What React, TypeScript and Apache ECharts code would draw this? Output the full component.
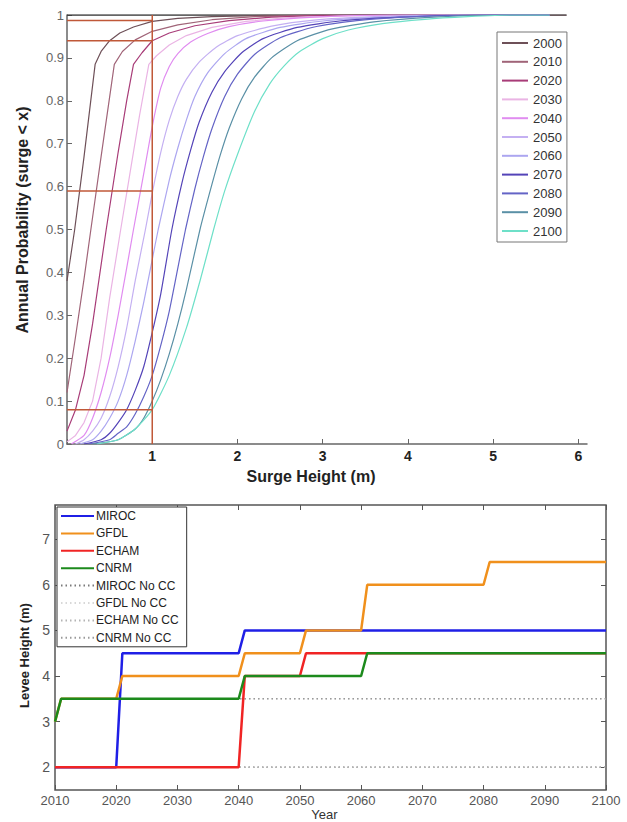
import React, { useEffect, useRef } from "react";
import * as echarts from "echarts";

// ---------- Top chart: annual probability curves ----------
const YEARS = ["2000", "2010", "2020", "2030", "2040", "2050", "2060", "2070", "2080", "2090", "2100"];

const CDF_2000 = [[0, 0.38], [0.09, 0.5], [0.2, 0.67], [0.33, 0.885], [0.4, 0.915], [0.5, 0.94], [0.62, 0.958], [0.78, 0.972], [1.0, 0.985], [1.3, 0.992], [1.7, 0.996], [2.3, 0.999], [3, 1], [5.86, 1]];
const CDF_2010 = [[0, 0.12], [0.1, 0.25], [0.2, 0.385], [0.28, 0.5], [0.4, 0.67], [0.555, 0.885], [0.65, 0.915], [0.8, 0.942], [1.0, 0.962], [1.3, 0.977], [1.7, 0.989], [2.2, 0.996], [2.8, 0.999], [3.4, 1], [5.66, 1]];
const CDF_2020 = [[0, 0.03], [0.1, 0.08], [0.2, 0.16], [0.3, 0.28], [0.46, 0.5], [0.6, 0.68], [0.7, 0.8], [0.78, 0.885], [0.88, 0.912], [1.0, 0.94], [1.2, 0.958], [1.5, 0.975], [1.9, 0.987], [2.4, 0.995], [3, 0.999], [3.6, 1], [5.66, 1]];
const CDF_2030 = [[0, 0.005], [0.1, 0.02], [0.2, 0.05], [0.3, 0.1], [0.4, 0.2], [0.5, 0.34], [0.63, 0.5], [0.75, 0.645], [0.85, 0.765], [0.96, 0.885], [1.05, 0.905], [1.2, 0.93], [1.4, 0.952], [1.7, 0.971], [2.1, 0.985], [2.6, 0.994], [3.3, 0.998], [4, 1], [5.66, 1]];
const CDF_2040 = [[0.05, 0], [0.2, 0.02], [0.3, 0.06], [0.4, 0.12], [0.5, 0.2], [0.6, 0.3], [0.7, 0.41], [0.78, 0.5], [0.9, 0.63], [1.0, 0.74], [1.1, 0.83], [1.2, 0.88], [1.3, 0.91], [1.45, 0.937], [1.65, 0.957], [1.9, 0.973], [2.3, 0.986], [2.9, 0.995], [3.8, 1], [5.66, 1]];
const CDF_2050 = [[0.1, 0], [0.2, 0.01], [0.3, 0.03], [0.4, 0.06], [0.5, 0.11], [0.6, 0.18], [0.7, 0.27], [0.8, 0.38], [0.92, 0.5], [1.0, 0.585], [1.1, 0.68], [1.2, 0.755], [1.3, 0.81], [1.4, 0.85], [1.55, 0.89], [1.75, 0.925], [2.0, 0.952], [2.4, 0.974], [2.9, 0.988], [3.6, 0.996], [4.4, 1], [5.66, 1]];
const CDF_2060 = [[0.15, 0], [0.3, 0.01], [0.4, 0.03], [0.5, 0.06], [0.6, 0.1], [0.7, 0.16], [0.8, 0.24], [0.9, 0.33], [1.0, 0.43], [1.07, 0.5], [1.2, 0.615], [1.3, 0.69], [1.4, 0.755], [1.5, 0.81], [1.65, 0.865], [1.85, 0.91], [2.1, 0.945], [2.5, 0.971], [3.0, 0.986], [3.7, 0.995], [4.6, 1], [5.66, 1]];
const CDF_2070 = [[0.2, 0], [0.4, 0.01], [0.5, 0.025], [0.6, 0.05], [0.7, 0.08], [0.8, 0.125], [0.9, 0.18], [1.0, 0.26], [1.1, 0.35], [1.23, 0.5], [1.35, 0.61], [1.45, 0.685], [1.55, 0.75], [1.7, 0.82], [1.85, 0.868], [2.05, 0.912], [2.3, 0.945], [2.7, 0.971], [3.2, 0.986], [3.9, 0.995], [4.8, 1], [5.66, 1]];
const CDF_2080 = [[0.25, 0], [0.5, 0.01], [0.6, 0.025], [0.7, 0.04], [0.8, 0.07], [0.9, 0.11], [1.0, 0.16], [1.1, 0.23], [1.2, 0.31], [1.3, 0.41], [1.39, 0.5], [1.5, 0.595], [1.6, 0.67], [1.7, 0.735], [1.85, 0.81], [2.0, 0.862], [2.2, 0.908], [2.5, 0.947], [2.9, 0.972], [3.4, 0.987], [4.1, 0.996], [5, 1], [5.66, 1]];
const CDF_2090 = [[0.3, 0], [0.6, 0.01], [0.8, 0.035], [0.9, 0.06], [1.0, 0.1], [1.1, 0.15], [1.2, 0.21], [1.3, 0.28], [1.4, 0.36], [1.56, 0.5], [1.7, 0.605], [1.8, 0.675], [1.9, 0.735], [2.05, 0.805], [2.2, 0.855], [2.4, 0.9], [2.7, 0.94], [3.1, 0.967], [3.6, 0.984], [4.3, 0.995], [5.1, 1], [5.66, 1]];
const CDF_2100 = [[0.35, 0], [0.6, 0.01], [0.8, 0.035], [1.0, 0.08], [1.2, 0.16], [1.4, 0.27], [1.56, 0.38], [1.72, 0.5], [1.85, 0.59], [2.0, 0.675], [2.2, 0.775], [2.38, 0.84], [2.55, 0.882], [2.73, 0.915], [3.0, 0.945], [3.3, 0.965], [3.7, 0.98], [4.2, 0.99], [4.7, 0.996], [5.2, 1], [5.66, 1]];

const CDF_CURVES = [CDF_2000, CDF_2010, CDF_2020, CDF_2030, CDF_2040, CDF_2050, CDF_2060, CDF_2070, CDF_2080, CDF_2090, CDF_2100];

// upper reference line (probability = 1)
const UPPER_LINE = [[0, 1], [5.86, 1]];
// red guide lines: surge height 1 m and probabilities read at 1 m
const GUIDE_X = 1;
const GUIDE_LEVELS = [0.987, 0.94, 0.59, 0.08];

const X_TICKS_TOP = [0, 1, 2, 3, 4, 5, 6];
const X_LABELS_TOP = [1, 2, 3, 4, 5, 6];

// ---------- Bottom chart: levee heights ----------
const MODELS = ["MIROC", "GFDL", "ECHAM", "CNRM"];
const MIROC = [[2010, 2], [2020, 2], [2021, 4.5], [2040, 4.5], [2041, 5], [2100, 5]];
const GFDL = [[2010, 3], [2011, 3.5], [2020, 3.5], [2021, 4], [2040, 4], [2041, 4.5], [2050, 4.5], [2051, 5], [2060, 5], [2061, 6], [2080, 6], [2081, 6.5], [2100, 6.5]];
const ECHAM = [[2010, 2], [2040, 2], [2041, 4], [2050, 4], [2051, 4.5], [2100, 4.5]];
const CNRM = [[2010, 3], [2011, 3.5], [2040, 3.5], [2041, 4], [2060, 4], [2061, 4.5], [2100, 4.5]];

const NOCC_NAMES = ["MIROC No CC", "GFDL No CC", "ECHAM No CC", "CNRM No CC"];
const MIROC_NOCC = [[2010, 2], [2100, 2]];
const GFDL_NOCC = [[2010, 3], [2011, 3.5], [2100, 3.5]];
const ECHAM_NOCC = [[2010, 2], [2100, 2]];
const CNRM_NOCC = [[2010, 3], [2011, 3.5], [2100, 3.5]];

const LEVEE_TICKS = [2, 3, 4, 5, 6, 7];

// ---------- styles ----------
const YEAR_COLORS = ["#6e5058", "#a06478", "#a83c78", "#eab4e4", "#e08cf0", "#c4b0f2", "#aca6f0", "#5444b8", "#6464c6", "#5a90a6", "#6ee0c8"];
const MODEL_COLORS = ["#1f1fe6", "#f0901c", "#f02424", "#1c8a1c"];
const NOCC_COLORS = ["#7a7a7a", "#d8d8d8", "#b4b4b4", "#9a9a9a"];
const FONT = "'Liberation Sans', Arial, Helvetica, sans-serif";

export default function App() {
  const ref = useRef<HTMLDivElement>(null);

  useEffect(() => {
    if (!ref.current) return;
    const chart = echarts.init(ref.current, undefined, { renderer: "svg" });

    const guideSeries: any[] = [
      {
        type: "line",
        xAxisIndex: 0,
        yAxisIndex: 0,
        data: [[GUIDE_X, 0], [GUIDE_X, 1]],
        symbol: "none",
        silent: true,
        lineStyle: { color: "#c05838", width: 1.5 },
        z: 3,
      },
      ...GUIDE_LEVELS.map((v) => ({
        type: "line",
        xAxisIndex: 0,
        yAxisIndex: 0,
        data: [[0, v], [GUIDE_X, v]],
        symbol: "none",
        silent: true,
        lineStyle: { color: "#c05838", width: 1.5 },
        z: 3,
      })),
    ];

    const curveSeries = CDF_CURVES.map((d, i) => ({
      name: YEARS[i],
      type: "line",
      xAxisIndex: 0,
      yAxisIndex: 0,
      data: d,
      symbol: "none",
      smooth: i < 4 ? false : 0.2,
      lineStyle: { color: YEAR_COLORS[i], width: 1.2 },
      itemStyle: { color: YEAR_COLORS[i] },
      z: 2,
    }));

    const modelData = [MIROC, GFDL, ECHAM, CNRM];
    const noccData = [MIROC_NOCC, GFDL_NOCC, ECHAM_NOCC, CNRM_NOCC];

    const noccSeries = noccData.map((d, i) => ({
      name: NOCC_NAMES[i],
      type: "line",
      xAxisIndex: 1,
      yAxisIndex: 1,
      data: d,
      symbol: "none",
      lineStyle: { color: NOCC_COLORS[i], width: 1.5, type: [1.5, 3] },
      itemStyle: { color: NOCC_COLORS[i] },
      z: 1,
    }));

    const modelSeries = modelData.map((d, i) => ({
      name: MODELS[i],
      type: "line",
      xAxisIndex: 1,
      yAxisIndex: 1,
      data: d,
      symbol: "none",
      lineStyle: { color: MODEL_COLORS[i], width: 2.5 },
      itemStyle: { color: MODEL_COLORS[i] },
      z: 3,
    }));

    const option: any = {
      animation: false,
      backgroundColor: "#ffffff",
      textStyle: { fontFamily: FONT },
      grid: [
        { left: 67, top: 15, width: 520, height: 429 },
        { left: 55, top: 505, width: 551, height: 287.5, show: true, borderColor: "#555", borderWidth: 1.5, backgroundColor: "transparent" },
      ],
      legend: [
        {
          data: YEARS,
          orient: "vertical",
          left: 497,
          top: 32,
          padding: [4, 5, 4, 4],
          itemWidth: 26,
          itemHeight: 14,
          itemGap: 4.8,
          backgroundColor: "#fff",
          borderColor: "#777",
          borderWidth: 1,
          itemStyle: { opacity: 0 },
          textStyle: { fontSize: 13, color: "#333", lineHeight: 14, fontFamily: FONT },
        },
        {
          data: [...MODELS, ...NOCC_NAMES],
          orient: "vertical",
          left: 57,
          top: 507,
          padding: [3, 8, 3, 3],
          itemWidth: 33,
          itemHeight: 12,
          itemGap: 5.4,
          backgroundColor: "#fff",
          borderColor: "#333",
          borderWidth: 1,
          itemStyle: { opacity: 0 },
          textStyle: { fontSize: 12, color: "#222", lineHeight: 12, fontFamily: FONT, padding: [0, 0, 0, -3] },
        },
      ],
      xAxis: [
        {
          type: "value",
          gridIndex: 0,
          min: 0,
          max: 6.1,
          name: "Surge Height (m)",
          nameLocation: "middle",
          nameGap: 21,
          nameTextStyle: { fontSize: 16, fontWeight: "bold", color: "#222", lineHeight: 18, padding: [0, 32, 0, 0] },
          axisLine: { show: true, lineStyle: { color: "#666", width: 1.5 } },
          axisTick: { show: true, inside: true, length: 5, customValues: X_TICKS_TOP, lineStyle: { color: "#666" } },
          axisLabel: { customValues: X_LABELS_TOP, fontSize: 14, fontWeight: "bold", color: "#222", margin: 5 },
          splitLine: { show: false },
        },
        {
          type: "value",
          gridIndex: 1,
          min: 2010,
          max: 2100,
          interval: 10,
          position: "bottom",
          name: "Year",
          nameLocation: "middle",
          nameGap: 18,
          nameTextStyle: { fontSize: 13, color: "#333", padding: [0, 12, 0, 0] },
          axisLine: { show: false },
          axisTick: { show: true, inside: true, length: 5, lineStyle: { color: "#555" } },
          axisLabel: { fontSize: 13, color: "#555", margin: 4, formatter: (v: number) => String(v) },
          splitLine: { show: false },
        },
        {
          type: "value",
          gridIndex: 1,
          min: 2010,
          max: 2100,
          interval: 10,
          position: "top",
          axisLine: { show: false },
          axisTick: { show: true, inside: true, length: 5, lineStyle: { color: "#555" } },
          axisLabel: { show: false },
          splitLine: { show: false },
        },
      ],
      yAxis: [
        {
          type: "value",
          gridIndex: 0,
          min: 0,
          max: 1,
          interval: 0.1,
          name: "Annual Probability (surge < x)",
          nameLocation: "middle",
          nameGap: 37,
          nameRotate: 90,
          nameTextStyle: { fontSize: 16, fontWeight: "bold", color: "#222", padding: [0, 0, 0, 19] },
          axisLine: { show: true, lineStyle: { color: "#666", width: 1.5 } },
          axisTick: { show: true, inside: true, length: 5, lineStyle: { color: "#666" } },
          axisLabel: {
            fontSize: 13,
            color: "#666",
            margin: 3,
            formatter: (v: number) => (v === 0 ? "0" : v === 1 ? "1" : v.toFixed(1)),
          },
          splitLine: { show: false },
        },
        {
          type: "value",
          gridIndex: 1,
          min: 1.5,
          max: 7.75,
          position: "left",
          name: "Levee Height (m)",
          nameLocation: "middle",
          nameGap: 18,
          nameRotate: 90,
          nameTextStyle: { fontSize: 13, fontWeight: "bold", color: "#222", padding: [0, 16, 0, 0] },
          axisLine: { show: false },
          axisTick: { show: true, inside: true, length: 5, customValues: LEVEE_TICKS, lineStyle: { color: "#555" } },
          axisLabel: { customValues: LEVEE_TICKS, fontSize: 14, color: "#555", margin: 5 },
          splitLine: { show: false },
        },
        {
          type: "value",
          gridIndex: 1,
          min: 1.5,
          max: 7.75,
          position: "right",
          axisLine: { show: false },
          axisTick: { show: true, inside: true, length: 5, customValues: LEVEE_TICKS, lineStyle: { color: "#555" } },
          axisLabel: { show: false },
          splitLine: { show: false },
        },
      ],
      series: [
        {
          type: "line",
          xAxisIndex: 0,
          yAxisIndex: 0,
          data: UPPER_LINE,
          symbol: "none",
          silent: true,
          lineStyle: { color: "#333", width: 1.5 },
          z: 1,
        },
        ...curveSeries,
        ...guideSeries,
        ...noccSeries,
        ...modelSeries,
      ],
    };

    chart.setOption(option);
    return () => chart.dispose();
  }, []);

  return (
    <div
      ref={ref}
      style={{ position: "absolute", left: 0, top: 0, width: 627, height: 822, background: "#fff" }}
    />
  );
}
